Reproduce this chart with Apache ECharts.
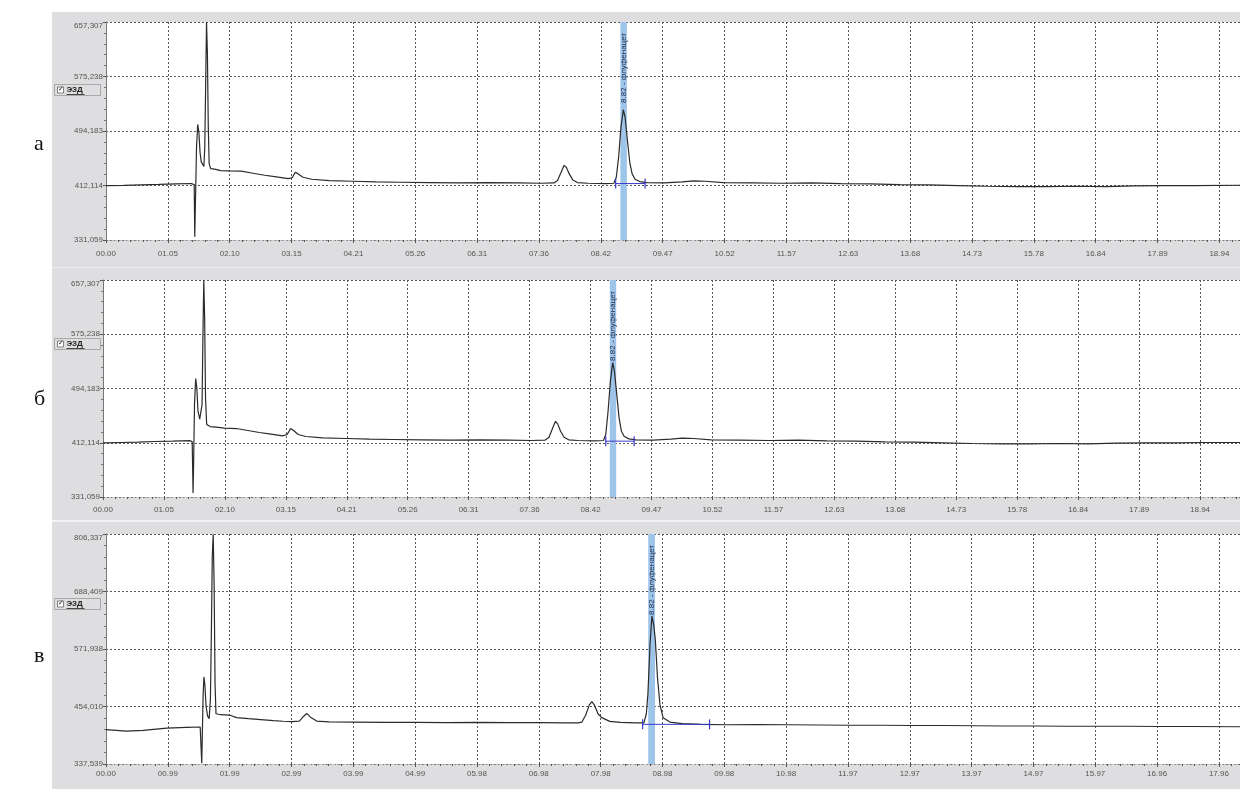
<!DOCTYPE html>
<html>
<head>
<meta charset="utf-8">
<script src="https://cdn.jsdelivr.net/npm/echarts@6/dist/echarts.min.js"></script>
<style>
  html, body { margin: 0; padding: 0; background: #fff; }
  #chart { width: 1240px; height: 789px; }
</style>
</head>
<body>
<div id="chart"></div>
<script>
// x tick labels (minutes)
const xLabelsAB = ['00.00', '01.05', '02.10', '03.15', '04.21', '05.26', '06.31', '07.36', '08.42', '09.47',
  '10.52', '11.57', '12.63', '13.68', '14.73', '15.78', '16.84', '17.89', '18.94']
const xLabelsC = ['00.00', '00.99', '01.99', '02.99', '03.99', '04.99', '05.98', '06.98', '07.98', '08.98',
  '09.98', '10.98', '11.97', '12.97', '13.97', '14.97', '15.97', '16.96', '17.96']

// y tick labels
const yLabelsAB = ['331,059', '412,114', '494,183', '575,238', '657,307']
const yLabelsC = ['337,539', '454,010', '571,938', '688,409', '806,337']

const peakName = '8.82 - флуфенацет'
const detector = 'ЭЗД'

// traces: [time, signal]
const traceA = [
  [0, 412.3], [0.3, 412.8], [0.6, 413.5], [0.9, 414.2], [1.2, 415], [1.45, 415.6], [1.5, 414],
  [1.51, 336], [1.52, 380], [1.54, 470], [1.56, 504], [1.58, 492], [1.6, 462], [1.62, 448],
  [1.645, 447], [1.665, 441], [1.68, 470], [1.695, 560], [1.71, 657], [1.725, 610], [1.74, 500],
  [1.755, 445], [1.78, 438], [1.85, 437], [1.95, 435], [2.1, 434.5], [2.3, 434], [2.5, 431],
  [2.7, 428], [2.9, 425.5], [3.1, 423], [3.17, 424.5], [3.22, 432.5], [3.27, 430], [3.35, 425],
  [3.5, 422], [3.8, 420], [4.2, 419], [4.6, 418], [5, 417.5], [5.5, 417], [6, 416.5], [6.5, 417],
  [7, 416.5], [7.4, 416], [7.62, 416.5], [7.68, 420], [7.74, 432], [7.79, 442.5], [7.83, 440],
  [7.88, 430], [7.94, 421], [8.02, 417], [8.2, 416], [8.5, 415.5], [8.64, 416], [8.68, 425],
  [8.72, 455], [8.76, 500], [8.8, 526], [8.83, 515], [8.87, 480], [8.91, 447], [8.95, 430],
  [9, 422], [9.08, 418.5], [9.2, 417], [9.5, 416.5], [9.8, 418], [10, 419.5], [10.2, 419],
  [10.5, 417], [11, 416.5], [11.5, 416], [12, 416.5], [12.5, 415.5], [13, 415], [13.5, 414],
  [14, 413.5], [14.5, 412.5], [15, 411.5], [15.5, 411], [16, 411], [16.5, 411.5], [17, 411],
  [17.5, 412], [18, 412.5], [18.5, 412.5], [19.3, 413]
]
const traceB = [
  [0, 412.5], [0.3, 413], [0.6, 413.5], [0.9, 414.5], [1.2, 415], [1.5, 415.8], [1.54, 414],
  [1.555, 337], [1.565, 385], [1.58, 470], [1.6, 509], [1.62, 495], [1.64, 460], [1.67, 448],
  [1.69, 445], [1.71, 470], [1.725, 570], [1.74, 657], [1.755, 600], [1.77, 480], [1.79, 440],
  [1.85, 437], [1.95, 436], [2.1, 434.5], [2.3, 434], [2.5, 431], [2.7, 428], [2.9, 425.5],
  [3.1, 423], [3.18, 425], [3.24, 434], [3.29, 431], [3.37, 425], [3.5, 422], [3.8, 420],
  [4.2, 419], [4.6, 418], [5, 417.5], [5.5, 417], [6, 416.5], [6.5, 417], [7, 416.5], [7.4, 416],
  [7.63, 416.5], [7.7, 421], [7.76, 434], [7.81, 444.5], [7.85, 441], [7.9, 430], [7.96, 421],
  [8.04, 417], [8.2, 416], [8.5, 415.5], [8.64, 416], [8.68, 425], [8.72, 460], [8.76, 505],
  [8.8, 533], [8.83, 520], [8.87, 485], [8.91, 450], [8.95, 430], [9, 422], [9.08, 418.5],
  [9.2, 417], [9.5, 416.5], [9.8, 418], [10, 419.5], [10.2, 419], [10.5, 417], [11, 416.5],
  [11.5, 416], [12, 416.5], [12.5, 415.5], [13, 415], [13.5, 414], [14, 413.5], [14.5, 412.5],
  [15, 411.5], [15.5, 411], [16, 411], [16.5, 411.5], [17, 411], [17.5, 412], [18, 412.5],
  [18.5, 412.5], [19, 413], [19.63, 413]
]
const traceC = [
  [0, 407.5], [0.33, 404.5], [0.6, 406], [0.98, 410.5], [1.3, 412], [1.52, 413], [1.535, 411],
  [1.545, 339], [1.555, 400], [1.568, 480], [1.58, 515], [1.595, 500], [1.615, 455], [1.64, 435],
  [1.665, 430], [1.685, 470], [1.7, 600], [1.715, 760], [1.73, 806], [1.745, 700], [1.76, 500],
  [1.775, 440], [1.85, 438], [2, 437], [2.11, 432], [2.3, 430], [2.5, 428], [2.7, 426],
  [2.86, 424.7], [3, 424], [3.12, 425], [3.19, 435], [3.24, 440.6], [3.3, 433], [3.4, 425],
  [3.6, 423.5], [4, 423], [4.5, 422.5], [5, 422.5], [5.5, 422], [6, 422.5], [6.5, 422], [7, 422],
  [7.4, 421.5], [7.62, 421.5], [7.68, 423], [7.74, 437], [7.8, 458], [7.84, 464.7], [7.88, 458],
  [7.94, 440], [8, 432], [8.13, 424.5], [8.3, 422.5], [8.55, 421.5], [8.68, 421.5], [8.72, 440],
  [8.745, 480], [8.78, 583], [8.81, 639], [8.84, 620], [8.865, 590], [8.9, 513], [8.94, 458],
  [8.99, 432], [9.1, 423], [9.3, 419.8], [9.6, 418.5], [10, 417.5], [10.5, 418], [11, 417.5],
  [11.5, 417], [12, 416.5], [12.5, 416.5], [13, 416], [13.5, 416], [14, 415.5], [14.5, 415],
  [15, 415], [15.5, 414.5], [16, 414.5], [16.5, 414.5], [17, 414], [17.5, 414], [18.3, 413.5]
]

// integration baselines and highlighted peak windows
const integA = [[8.67, 415.5], [9.17, 415.5]]
const integB = [[8.68, 415], [9.17, 415]]
const integC = [[8.66, 418.4], [9.74, 418.4]]
const bandA = [8.75, 8.86]
const bandB = [8.75, 8.86]
const bandC = [8.75, 8.86]

const panels = [
  { letter: 'а', grid: { left: 106, top: 22, height: 218 }, xMax: 19.29, xStep: 18.94 / 18, xLabels: xLabelsAB,
    yLabels: yLabelsAB, trace: traceA, integ: integA, band: bandA, margin: 10, letterY: 145, boxY: 84 },
  { letter: 'б', grid: { left: 103, top: 280, height: 217 }, xMax: 19.63, xStep: 18.94 / 18, xLabels: xLabelsAB,
    yLabels: yLabelsAB, trace: traceB, integ: integB, band: bandB, margin: 9, letterY: 400, boxY: 338 },
  { letter: 'в', grid: { left: 106, top: 534, height: 230 }, xMax: 18.3, xStep: 17.96 / 18, xLabels: xLabelsC,
    yLabels: yLabelsC, trace: traceC, integ: integC, band: bandC, margin: 6, letterY: 657, boxY: 598 }
]

const font = 'Liberation Sans, Arial, sans-serif'
const gridDash = { color: '#555', type: [2, 2], width: 1 }

const grids = [], xAxes = [], yAxes = [], series = [], graphics = []

graphics.push({ type: 'rect', shape: { x: 52, y: 12, width: 1188, height: 777 }, style: { fill: '#dedee0' }, z: -10 })
graphics.push({ type: 'rect', shape: { x: 52, y: 267, width: 1188, height: 1 }, style: { fill: '#ececee' }, z: -9 })
graphics.push({ type: 'rect', shape: { x: 52, y: 520, width: 1188, height: 2 }, style: { fill: '#f2f2f4' }, z: -9 })

panels.forEach((p, i) => {
  const yMin = parseFloat(p.yLabels[0].replace(',', '.'))
  const yMax = parseFloat(p.yLabels[4].replace(',', '.'))
  const yStep = (yMax - yMin) / 4
  const mid = (p.band[0] + p.band[1]) / 2

  grids.push({ left: p.grid.left, top: p.grid.top, height: p.grid.height, right: 0,
    show: true, backgroundColor: '#fff', borderWidth: 0 })

  xAxes.push({
    type: 'value', gridIndex: i, min: 0, max: p.xMax, interval: p.xStep,
    axisLine: { show: true, lineStyle: { color: '#b8b8b8', type: [1, 2] } },
    axisTick: { show: true, length: 3, lineStyle: { color: '#555' } },
    minorTick: { show: true, splitNumber: 5, length: 2, lineStyle: { color: '#555' } },
    splitLine: { show: true, lineStyle: gridDash },
    axisLabel: {
      color: '#555', fontSize: 8, fontFamily: font, margin: p.margin, showMaxLabel: false,
      formatter: v => {
        const k = Math.round(v / p.xStep)
        return Math.abs(v - k * p.xStep) < 1e-6 && p.xLabels[k] ? p.xLabels[k] : ''
      }
    }
  })

  yAxes.push({
    type: 'value', gridIndex: i, min: yMin, max: yMax, interval: yStep,
    axisLine: { show: true, lineStyle: { color: '#777' } },
    axisTick: { show: true, length: 3, lineStyle: { color: '#555' } },
    minorTick: { show: true, splitNumber: 5, length: 2, lineStyle: { color: '#777' } },
    splitLine: { show: true, lineStyle: gridDash },
    axisLabel: {
      color: '#555', fontSize: 8, fontFamily: font, margin: 3,
      formatter: v => {
        const k = Math.round((v - yMin) / yStep)
        if (Math.abs(v - (yMin + k * yStep)) > 1e-3 || !p.yLabels[k]) return ''
        return k === 4 ? '{top|' + p.yLabels[k] + '}' : p.yLabels[k]
      },
      rich: { top: { fontSize: 8, color: '#555', fontFamily: font, padding: [8, 0, 0, 0] } }
    }
  })

  series.push({
    type: 'line', xAxisIndex: i, yAxisIndex: i, data: p.trace, showSymbol: false,
    lineStyle: { color: '#2b2b2b', width: 1.2 }, silent: true, z: 3,
    markArea: {
      silent: true,
      itemStyle: { color: '#9ec4e9' },
      data: [[{ xAxis: p.band[0] }, { xAxis: p.band[1] }]]
    },
    markLine: {
      silent: true, symbol: 'none',
      lineStyle: { color: 'rgba(0,0,0,0)', width: 0 },
      label: { show: true, position: 'insideEnd', formatter: peakName, fontSize: 8,
        fontFamily: font, color: '#1c2848', distance: 11 },
      data: [[{ coord: [mid, yMin] }, { coord: [mid, yMax] }]]
    }
  })

  series.push({
    type: 'line', xAxisIndex: i, yAxisIndex: i, data: p.integ, silent: true, z: 4,
    symbol: 'rect', symbolSize: [1.2, 10], showSymbol: true,
    itemStyle: { color: '#3838c8' }, lineStyle: { color: '#3838c8', width: 1 }
  })

  graphics.push({ type: 'text', left: 34, top: p.letterY - 12,
    style: { text: p.letter, fontSize: 22, fontFamily: 'Liberation Serif, DejaVu Serif, serif', fill: '#111' } })
  graphics.push({ type: 'group', left: 54, top: p.boxY, children: [
    { type: 'rect', shape: { x: 0, y: 0, width: 46, height: 11 }, style: { fill: '#dedee0', stroke: '#a8a8a8', lineWidth: 1 } },
    { type: 'rect', shape: { x: 3, y: 2.5, width: 6, height: 6 }, style: { fill: '#fff', stroke: '#666', lineWidth: 0.8 } },
    { type: 'text', x: 3.6, y: 1.5, style: { text: '✓', fontSize: 7, fill: '#222', fontFamily: 'DejaVu Sans' } },
    { type: 'text', x: 12, y: 1, style: { text: detector, fontSize: 8, fontWeight: 'bold', fill: '#222', fontFamily: font } },
    { type: 'rect', shape: { x: 12, y: 9.5, width: 18, height: 0.8 }, style: { fill: '#222' } }
  ] })
})

const chart = echarts.init(document.getElementById('chart'), null, { renderer: 'canvas' })
chart.setOption({
  animation: false,
  backgroundColor: '#fff',
  grid: grids,
  xAxis: xAxes,
  yAxis: yAxes,
  series,
  graphic: graphics
})
window.addEventListener('resize', () => chart.resize())
</script>
</body>
</html>
